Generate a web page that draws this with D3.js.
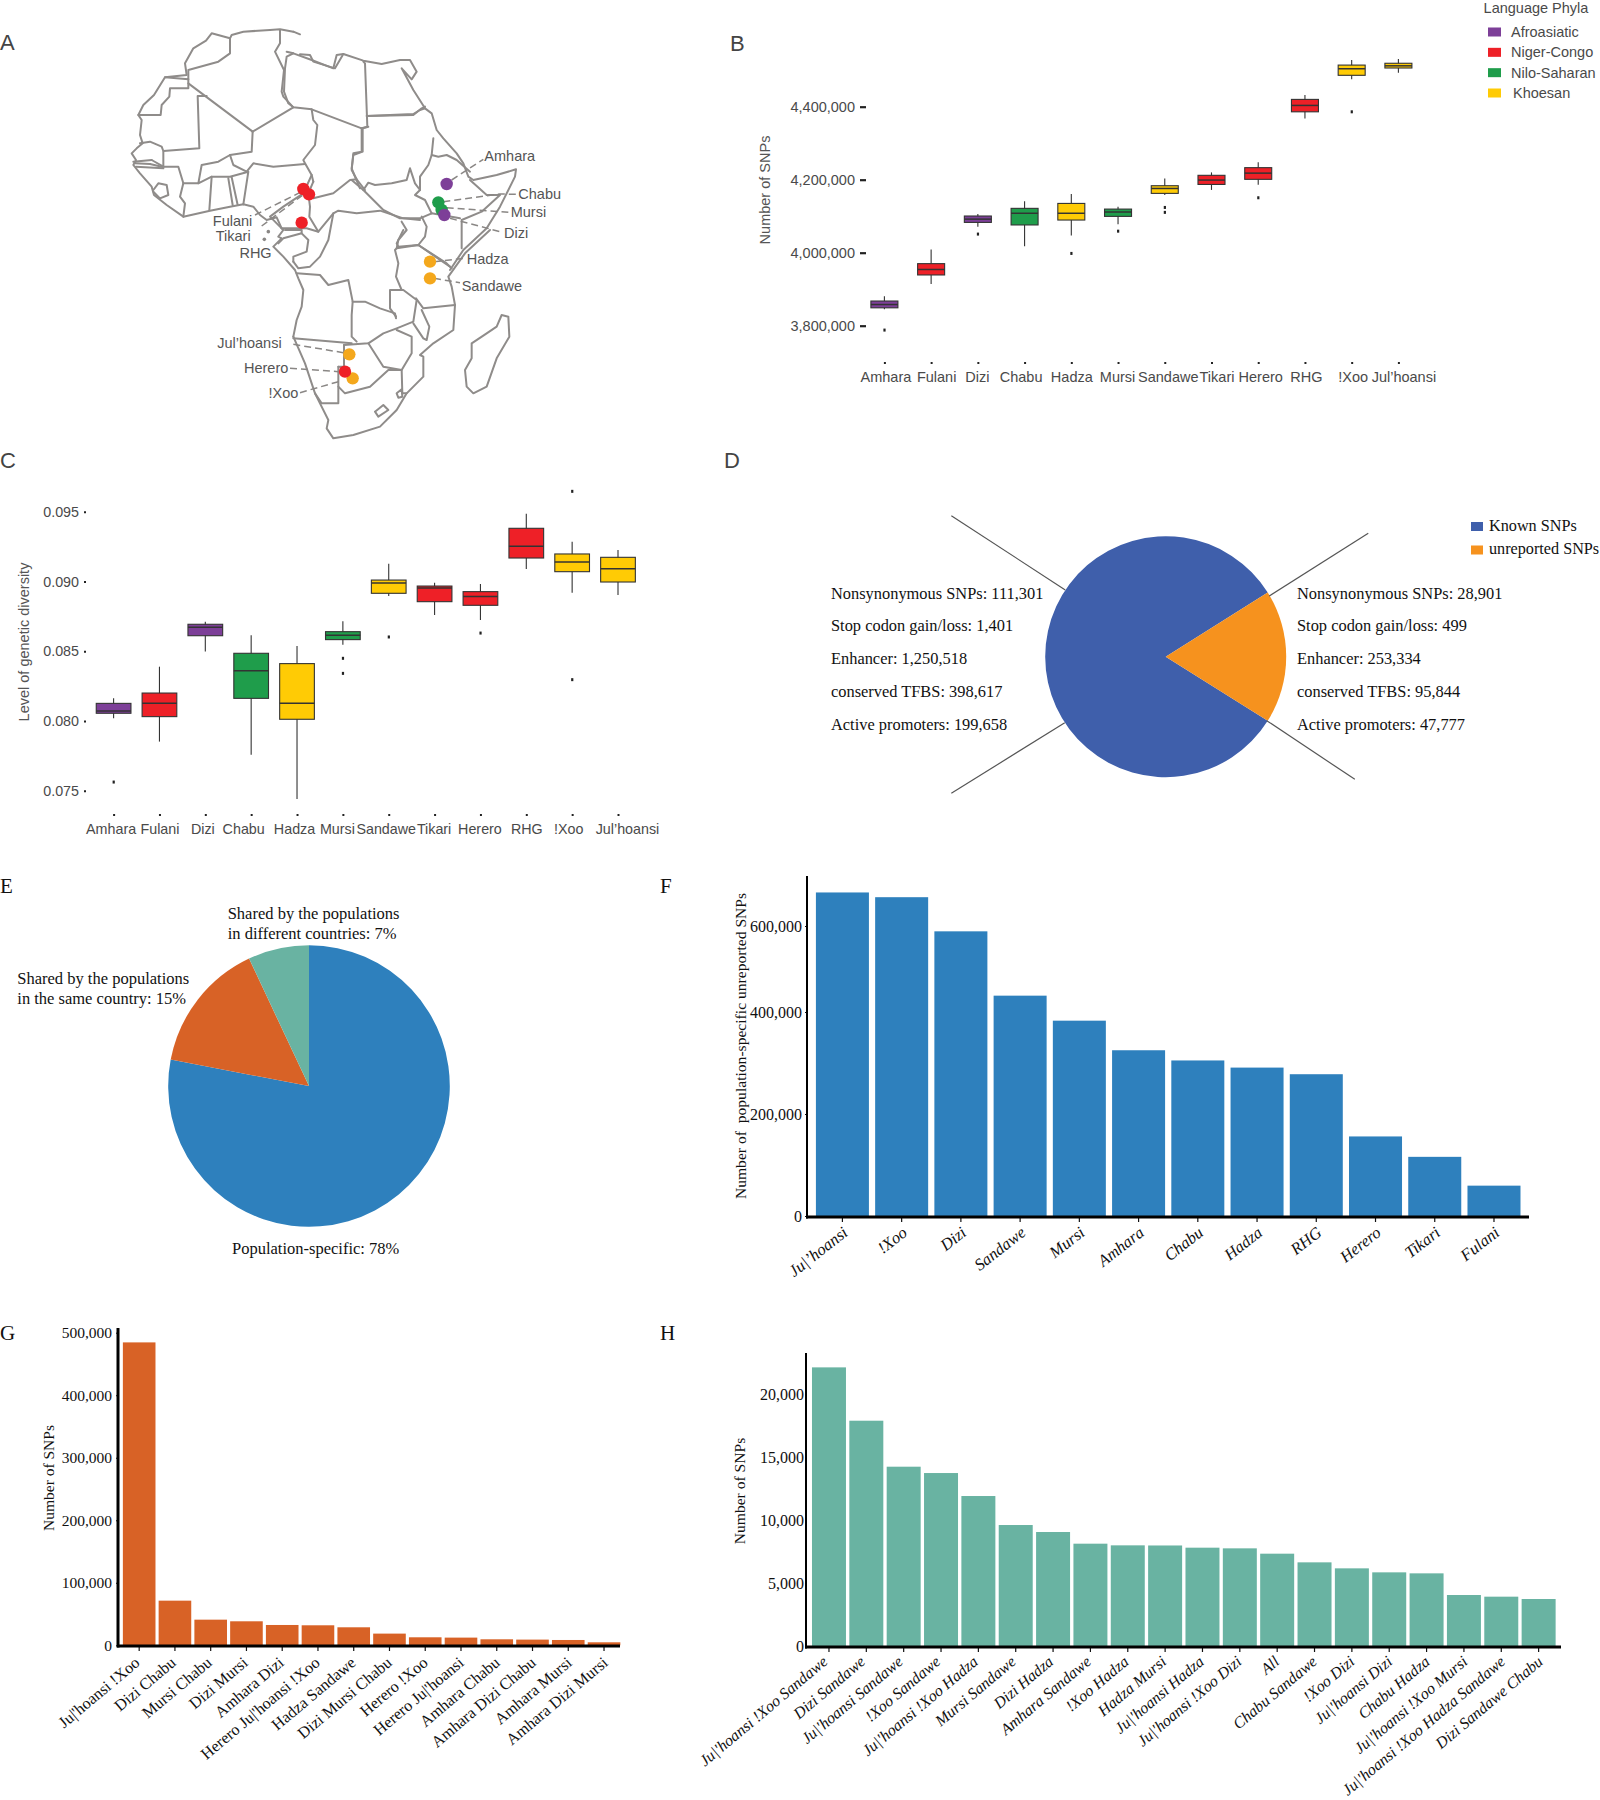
<!DOCTYPE html>
<html><head><meta charset="utf-8">
<script src="https://cdn.jsdelivr.net/npm/d3@7"></script>
<style>
html,body{margin:0;padding:0;background:#fff}
svg{display:block}
</style></head><body>
<svg id="c" width="1600" height="1800" xmlns="http://www.w3.org/2000/svg"></svg>
<script>
/* ---------- data ---------- */
const populations = ["Amhara","Fulani","Dizi","Chabu","Hadza","Mursi","Sandawe","Tikari","Herero","RHG","!Xoo","Jul’hoansi"];
const phyla = ["Afroasiatic","Niger-Congo","Nilo-Saharan","Khoesan"];
const phylaColors = ["#7d3f98","#ee2027","#1f9d4b","#ffcb05"];
const populationPhylum = [0,1,0,2,3,2,3,1,1,1,3,3];

const snpQ1  = [3849000,3939000,4083000,4076000,4089500,4099500,4162500,4187000,4201000,4386000,4486000,4506000];
const snpMed = [3858000,3954000,4092000,4108000,4108000,4111500,4176000,4199000,4218000,4403500,4504000,4512000];
const snpQ3  = [3867600,3970000,4100500,4121500,4135000,4119500,4183500,4212000,4233000,4420000,4514000,4519000];
const snpLo  = [3845000,3914000,4071000,4018000,4047000,4078000,4158000,4172000,4186000,4368000,4475000,4493000];
const snpHi  = [3881000,4009000,4106000,4141000,4161000,4126000,4203500,4220000,4247500,4432000,4528000,4531000];
const snpOut = [[3788000],[],[4051000],[],[3998000],[4059000],[4124000,4110500],[],[4150500],[],[4386000],[]];
const snpTicks = [3800000,4000000,4200000,4400000];

const divQ1  = [.08055,.08031,.08611,.08162,.08012,.08583,.08915,.08855,.08829,.09168,.09070,.08996];
const divMed = [.08071,.08126,.08671,.08360,.08126,.08614,.08989,.08953,.08893,.09252,.09139,.09091];
const divQ3  = [.08126,.08200,.08693,.08485,.08411,.08640,.09010,.08967,.08927,.09381,.09197,.09173];
const divLo  = [.08019,.07852,.08497,.07758,.07441,.08547,.08896,.08759,.08724,.09089,.08919,.08903];
const divHi  = [.08162,.08389,.08712,.08614,.08537,.08714,.09127,.08991,.08982,.09486,.09285,.09225];
const divOut = [[.07562],[],[],[],[],[.08449,.08341],[.08602],[],[.08630],[],[.09646,.08296],[]];
const divTicks = [.075,.080,.085,.090,.095];

const annotCats = ["Nonsynonymous SNPs","Stop codon gain/loss","Enhancer","conserved TFBS","Active promoters"];
const knownCounts = [111301,1401,1250518,398617,199658];
const unreportedCounts = [28901,499,253334,95844,47777];
const snpClassNames = ["Known SNPs","unreported SNPs"];

const shareNames = ["Population-specific","Shared same country","Shared different countries"];
const shareValues = [78,15,7];

const fCats = ["Ju|’hoansi","!Xoo","Dizi","Sandawe","Mursi","Amhara","Chabu","Hadza","RHG","Herero","Tikari","Fulani"];
const fVals = [678000,667000,587600,438000,383000,325000,305000,291000,278000,156000,116000,59500];
const fTicks = [0,200000,400000,600000];

const gCats = ["Ju|'hoansi !Xoo","Dizi Chabu","Mursi Chabu","Dizi Mursi","Amhara Dizi","Herero Ju|'hoansi !Xoo","Hadza Sandawe","Dizi Mursi Chabu","Herero !Xoo","Herero Ju|'hoansi","Amhara Chabu","Amhara Dizi Chabu","Amhara Mursi","Amhara Dizi Mursi"];
const gVals = [484500,71400,41000,38400,32500,32000,28800,18700,12800,12300,9600,9100,8500,4800];
const gTicks = [0,100000,200000,300000,400000,500000];

const hCats = ["Ju|'hoansi !Xoo Sandawe","Dizi Sandawe","Ju|'hoansi Sandawe","!Xoo Sandawe","Ju|'hoansi !Xoo Hadza","Mursi Sandawe","Dizi Hadza","Amhara Sandawe","!Xoo Hadza","Hadza Mursi","Ju|'hoansi Hadza","Ju|'hoansi !Xoo Dizi","All","Chabu Sandawe","!Xoo Dizi","Ju|'hoansi Dizi","Chabu Hadza","Ju|'hoansi !Xoo Mursi","Ju|'hoansi !Xoo Hadza Sandawe","Dizi Sandawe Chabu"];
const hVals = [22175,17930,14270,13766,11936,9628,9072,8143,8011,8000,7825,7772,7347,6658,6180,5862,5782,4058,3926,3740];
const hTicks = [0,5000,10000,15000,20000];

/* map outline traced in map units; each entry: [originX, originY, "x,y x,y ..."] */
const mapCoast = [
 [390,60,"490,35 450,28 420,30 340,35 305,45 300,55 245,40 228,62 190,85 165,130 170,165 105,172 72,225 40,255 25,285 35,300 30,345 38,370 20,385 5,400 18,420 10,435 30,460 65,500 72,525 110,555 160,590 240,572 300,560 340,553 370,560 390,585 410,600 440,592 455,625"],
 [390,450,"455,235 460,240 445,260 455,265 430,290 460,320 495,360 505,385 520,420 515,470 500,510 490,560"],
 [810,690,"70,320 105,400 135,490 175,570 170,595 190,625 250,615 330,590 380,540 410,490 460,440 460,380 450,375 490,340 550,300 555,225 545,170 535,140 585,70 660,0"],
 [900,120,"450,690 490,630 560,565 600,500 645,410 648,388 590,405 520,420 505,410 490,370 470,340 430,295 410,270 395,220 375,205 340,150 305,85 335,118 350,95 330,60 300,60 245,72 190,62 130,42 105,85 40,65 30,45 0,43"],
 [390,60,"510,43 490,35"],
 [390,60,"470,95 490,100 545,120 610,145 620,105 640,102"],
 [810,690,"695,255 715,260 718,320 680,385 650,470 610,490 590,470 585,420 605,385 605,340 650,310 680,290 695,255"]
];
const mapBorders = [
 [390,60,"105,172 175,178 175,150 265,125 300,100 300,55"],
 [390,60,"25,285 92,285 95,255 118,230 120,205 175,205 175,178"],
 [390,60,"175,190 355,325 368,335"],
 [390,60,"230,228 203,228 208,385 100,393 95,380 60,365 30,370"],
 [390,60,"368,335 365,395 300,405 265,425 215,435 205,490 245,470 300,470 355,455 340,553"],
 [390,60,"368,335 490,262 460,230 455,215 462,150 435,95 450,70 450,30"],
 [390,60,"490,100 470,110 465,145 462,215 475,250 490,262 545,268 695,325 712,320 705,130 700,125"],
 [390,60,"712,288 850,285 875,265 885,260"],
 [390,60,"545,268 550,300 562,315 555,375 520,420 525,430 545,465 550,485"],
 [390,60,"525,432 430,440 370,430 350,455"],
 [390,60,"300,405 310,435 350,455"],
 [390,60,"245,470 238,570"],[390,60,"295,475 308,555"],[390,60,"305,472 323,555"],
 [390,60,"160,590 165,550 150,530 160,490 145,440 95,440 60,432"],
 [390,60,"205,490 160,490"],
 [390,60,"70,510 85,490 110,495 115,525 90,535 70,515"],
 [390,60,"10,425 65,420"],[390,60,"15,430 60,432"],[390,60,"18,440 100,445 100,395"],[390,60,"65,420 100,440"],
 [390,60,"545,465 520,520 460,560 420,590 455,625 530,625 565,635"],
 [390,60,"550,535 610,520 660,480 680,478 705,510"],
 [390,60,"695,325 695,395 670,400 665,450 680,478"],
 [390,60,"550,485 535,520 540,560 538,590 565,635 610,580 625,572 680,580 750,572 820,595 870,600"],
 [900,120,"155,420 190,450 205,428 225,435 275,430 320,420 330,385 345,430 360,450 345,465 375,480 395,520"],
 [900,120,"190,450 250,510 300,535 360,535 395,520 480,535"],
 [900,120,"400,295 395,345 385,375 360,410 360,450"],
 [900,120,"395,345 415,350 440,345 470,360 510,395"],
 [900,120,"188,265 188,335 160,345 155,385 165,410 180,445"],
 [900,120,"200,228 340,222 360,210 375,205"],
 [900,120,"205,260 188,265"],
 [900,120,"365,530 380,560 375,590 355,615"],
 [900,120,"305,545 320,570 295,600 290,625 355,615 450,680"],
 [900,120,"485,545 485,625"],
 [900,120,"510,420 560,465 600,465 545,515 485,540"],
 [390,450,"610,190 595,270 570,320 540,350 505,355 490,335"],
 [390,450,"445,280 460,265 515,250 535,270 530,305 490,320 490,335"],
 [390,450,"465,240 515,240 515,250"],
 [810,690,"80,130 150,135 175,165 235,150 248,215 285,215 330,235 375,250 378,265"],
 [810,690,"248,215 245,255 245,320 260,335"],
 [810,690,"70,325 245,340"],
 [810,690,"205,410 205,520 155,520 135,490"],
 [810,690,"222,345 222,410 205,410"],
 [810,690,"222,345 295,340 340,310 380,295 430,275 440,210 400,180 360,180 360,235 378,260"],
 [810,690,"295,340 340,410 395,420 355,420 300,470 225,490 205,470"],
 [810,690,"380,300 425,320 425,370 395,420 397,490 410,490"],
 [810,690,"438,205 460,235 555,225"],
 [810,690,"430,280 460,325 470,330 478,290 455,240"],
 [810,690,"395,180 378,140 385,100 375,60 385,50 380,40 400,0"],
 [810,690,"385,50 445,45 530,100 545,115"],
 [810,690,"315,545 340,525 355,540 325,560 315,545"],
 [810,690,"380,490 395,478 397,500 385,503 380,490"]
];
const mapLeaders = [
 [900,120,"455,420 550,358"],[900,120,"430,485 600,462 650,463"],[900,120,"440,503 625,517"],[900,120,"450,535 600,575"],
 [900,120,"402,665 495,655"],[810,690,"492,145 570,158"],[810,690,"70,343 220,368"],[810,690,"60,415 205,425"],[810,690,"90,488 205,455"],
 [390,450,"375,195 515,125"],[390,450,"395,228 525,130"]
];
const sitePopulations = ["Fulani","Tikari","RHG","Amhara","Chabu","Mursi","Dizi","Hadza","Sandawe","Jul’hoansi","!Xoo","Herero"];
const siteX = [910,927,905,1340,1315,1325,1333,1290,1290,1048,1058,1035];
const siteY = [567,583,668,552,607,630,645,785,835,1063,1135,1115];
const siteColors = ["#ee2027","#ee2027","#ee2027","#7d3f98","#1f9d4b","#1f9d4b","#7d3f98","#f4a81d","#f4a81d","#f4a81d","#f4a81d","#ee2027"];

/* ---------- helpers ---------- */
const svg = d3.select("#c");
const SANS = '"Liberation Sans",Arial,sans-serif', SERIF = '"Liberation Serif","Times New Roman",serif';
function txt(parent,t,x,y,o={}){
  const e = parent.append("text").attr("x",x).attr("y",y).text(t)
    .style("font-family",o.font||SANS).style("font-size",(o.size||14)+"px").style("white-space","pre")
    .style("fill",o.fill||"#4a4a4a").attr("text-anchor",o.anchor||"start").attr("dominant-baseline",o.base||"central");
  if(o.style) e.style("font-style",o.style);
  if(o.rot!=null) e.attr("transform",`rotate(${o.rot},${x},${y})`);
  return e;
}
function boxplot(cfg){
  const g = svg.append("g");
  const x = d3.scalePoint().domain(populations).range(cfg.xr);
  const y = d3.scaleLinear().domain(cfg.yd).range(cfg.yr);
  const yAxis = d3.axisLeft(y).tickValues(cfg.ticks).tickFormat(cfg.fmt).tickSize(cfg.ytick).tickPadding(cfg.ypad);
  const ya = g.append("g").attr("transform",`translate(${cfg.yax},0)`).call(yAxis);
  ya.select(".domain").remove();
  ya.selectAll("line").attr("stroke","#222").attr("stroke-width",cfg.ytw);
  ya.selectAll("text").style("font-family",SANS).style("font-size",cfg.fs+"px").style("fill","#4a4a4a");
  const xa = g.append("g").attr("transform",`translate(0,${cfg.xay})`).call(d3.axisBottom(x).tickSize(2).tickPadding(cfg.xpad));
  xa.select(".domain").remove();
  xa.selectAll("line").attr("stroke","#222").attr("stroke-width",2);
  xa.selectAll("text").style("font-family",SANS).style("font-size",cfg.fs+"px").style("fill","#4a4a4a")
    .attr("dx",(d,i)=>cfg.labelDx[i]);
  populations.forEach((p,i)=>{
    const cx = x(p), w = cfg.bw;
    g.append("line").attr("x1",cx).attr("x2",cx).attr("y1",y(cfg.hi[i])).attr("y2",y(cfg.lo[i])).attr("stroke","#333").attr("stroke-width",1.1);
    g.append("rect").attr("x",cx-w/2).attr("width",w).attr("y",y(cfg.q3[i])).attr("height",y(cfg.q1[i])-y(cfg.q3[i]))
      .attr("fill",phylaColors[populationPhylum[i]]).attr("stroke","#333").attr("stroke-width",1.1);
    g.append("line").attr("x1",cx-w/2).attr("x2",cx+w/2).attr("y1",y(cfg.med[i])).attr("y2",y(cfg.med[i])).attr("stroke","#333").attr("stroke-width",1.5);
    cfg.out[i].forEach(v=>g.append("rect").attr("x",cx-1).attr("y",y(v)-1.5).attr("width",2.2).attr("height",3).attr("fill","#222"));
  });
  txt(g,cfg.ylabel,cfg.ylx,cfg.yly,{size:cfg.yls,rot:-90,anchor:"middle",fill:"#555"});
}
function barPanel(cfg){
  const g = svg.append("g");
  const x = d3.scaleBand().domain(cfg.cats).range(cfg.xr).paddingInner(cfg.pad).paddingOuter(cfg.pad/2);
  const y = d3.scaleLinear().domain(cfg.yd).range(cfg.yr);
  g.selectAll("rect.bar").data(cfg.vals).join("rect").attr("class","bar")
    .attr("x",(d,i)=>x(cfg.cats[i])).attr("width",x.bandwidth())
    .attr("y",d=>y(d)).attr("height",d=>y(0)-y(d)).attr("fill",cfg.color);
  const ya = g.append("g").attr("transform",`translate(${cfg.axisX},0)`)
    .call(d3.axisLeft(y).tickValues(cfg.ticks).tickFormat(d3.format(",")).tickSize(cfg.ytick).tickPadding(cfg.ypad));
  ya.select(".domain").remove();
  ya.selectAll("line").attr("stroke","#111").attr("stroke-width",1);
  ya.selectAll("text").style("font-family",SERIF).style("font-size",cfg.tickFs+"px").style("fill","#111");
  const xa = g.append("g").attr("transform",`translate(0,${cfg.baseY})`).call(d3.axisBottom(x).tickSize(5));
  xa.select(".domain").remove();
  xa.selectAll("line").attr("stroke","#111").attr("stroke-width",1.2);
  xa.selectAll("text").attr("x",0).attr("y",0).attr("dy",".35em").attr("text-anchor","end")
    .attr("transform",(d,i)=>`translate(${cfg.ldx+i*cfg.ldxStep},${cfg.ldy}) rotate(${cfg.rot})`)
    .style("font-family",SERIF).style("font-size",cfg.labelFs+"px").style("fill","#111").style("font-style",cfg.italic?"italic":"normal");
  g.append("line").attr("x1",cfg.axisX).attr("x2",cfg.axisX).attr("y1",cfg.top).attr("y2",cfg.baseY+1.5).attr("stroke","#000").attr("stroke-width",cfg.axW);
  g.append("line").attr("x1",cfg.axisX-1).attr("x2",cfg.xEnd).attr("y1",cfg.baseY).attr("y2",cfg.baseY).attr("stroke","#000").attr("stroke-width",3);
  txt(g,cfg.ylabel,cfg.ylx,cfg.yly,{font:SERIF,size:cfg.yls,rot:-90,anchor:"middle",fill:"#111"});
}

/* ---------- panel letters ---------- */
[["A",0,50],["B",730,51],["C",0,468],["D",724,468]].forEach(d=>
  txt(svg,d[0],d[1],d[2],{size:22,base:"auto",fill:"#444"}));
[["E",0,893],["F",660,893],["G",0,1340],["H",660,1340]].forEach(d=>
  txt(svg,d[0],d[1],d[2],{font:SERIF,size:21,base:"auto",fill:"#111"}));

/* ---------- A: map ---------- */
(function(){
  const g = svg.append("g");
  const mx = d3.scaleLinear().domain([0,1800]).range([0,600]);
  const my = d3.scaleLinear().domain([0,1800]).range([0,600]);
  const parse = s => { const pts = s[2].split(" ").map(p=>p.split(",").map(Number)); return pts.map(p=>[p[0]+s[0],p[1]+s[1]]); };
  const line = d3.line().x(d=>mx(d[0])).y(d=>my(d[1])).curve(d3.curveLinear);
  g.selectAll("path.b").data(mapBorders.concat(mapCoast)).join("path").attr("class","b")
    .attr("d",d=>line(parse(d))).attr("fill","none").attr("stroke","#8f8c8a").attr("stroke-width",2).attr("stroke-linejoin","round").attr("stroke-linecap","round");
  g.selectAll("path.l").data(mapLeaders).join("path").attr("class","l")
    .attr("d",d=>line(parse(d))).attr("fill","none").attr("stroke","#8a8785").attr("stroke-width",1.5).attr("stroke-dasharray","7 4");
  g.selectAll("circle.d").data(siteX).join("circle").attr("class","d")
    .attr("cx",d=>mx(d)).attr("cy",(d,i)=>my(siteY[i])).attr("r",6.2).attr("fill",(d,i)=>siteColors[i]);
  g.selectAll("circle.t").data([[805,695],[793,718]]).join("circle").attr("class","t")
    .attr("cx",d=>mx(d[0])).attr("cy",d=>my(d[1])).attr("r",1.8).attr("fill","#8a8785");
  const labs = [["Amhara",1453,468,"start"],["Chabu",1555,583,"start"],["Mursi",1532,637,"start"],["Dizi",1512,698,"start"],["Hadza",1400,777,"start"],["Sandawe",1385,857,"start"],
    ["Jul’hoansi",845,1028,"end"],["Herero",865,1105,"end"],["!Xoo",895,1178,"end"],["Fulani",757,662,"end"],["Tikari",752,707,"end"],["RHG",815,760,"end"]];
  labs.forEach(l=>txt(g,l[0],mx(l[1]),my(l[2]),{size:14.5,anchor:l[3],fill:"#555"}));
})();

/* ---------- B ---------- */
boxplot({xr:[884.4,1398.4],yd:[3800000,4400000],yr:[325.7,106.7],ticks:snpTicks,fmt:d3.format(","),ytick:6,ypad:5,yax:866,ytw:2.2,fs:14.5,
  xay:362,xpad:8,labelDx:[1,5,-1,-4,0,-1,3,5,2,1,1,5],bw:27,q1:snpQ1,med:snpMed,q3:snpQ3,lo:snpLo,hi:snpHi,out:snpOut,
  ylabel:"Number of SNPs",ylx:765,yly:190,yls:14.5});
const leg = svg.append("g");
txt(leg,"Language Phyla",1536,8,{anchor:"middle",size:14.5});
const legY = d3.scalePoint().domain(phyla).range([32,93]);
phyla.forEach((p,i)=>{
  leg.append("rect").attr("x",1488).attr("y",legY(p)-4.5).attr("width",13).attr("height",9).attr("fill",phylaColors[i]);
  txt(leg,p,i==3?1513:1511,legY(p),{size:14.5});
});

/* ---------- C ---------- */
boxplot({xr:[113.6,618],yd:[.075,.095],yr:[790.7,511.7],ticks:divTicks,fmt:d3.format(".3f"),ytick:2,ypad:5,yax:86,ytw:2,fs:14.3,
  xay:814,xpad:8,labelDx:[-3,0,-3,-8,-3,-6,-3,-1,-1,0,-4,9],bw:34.7,q1:divQ1,med:divMed,q3:divQ3,lo:divLo,hi:divHi,out:divOut,
  ylabel:"Level of genetic diversity",ylx:24,yly:642,yls:14.5});

/* ---------- D ---------- */
(function(){
  const g = svg.append("g").attr("transform","translate(1165.7,656.7)");
  const totals = [d3.sum(knownCounts),d3.sum(unreportedCounts)];
  const half = Math.PI*totals[1]/(totals[0]+totals[1]);
  const pie = d3.pie().sort(null).startAngle(Math.PI/2+half).endAngle(Math.PI/2+half+2*Math.PI);
  const arc = d3.arc().innerRadius(0).outerRadius(120.5);
  const dColors = ["#3f5fab","#f6921e"];
  const ld = svg.append("g");
  [[264,47,493,270],[264,880,492,668],[1102,100,903,288],[1075,838,898,662]].forEach(l=>{
    ld.append("line").attr("x1",820+l[0]/2.01).attr("y1",500+l[1]/3).attr("x2",820+l[2]/2.01).attr("y2",500+l[3]/3).attr("stroke","#555").attr("stroke-width",1.2);
  });
  g.selectAll("path").data(pie(totals)).join("path").attr("d",arc).attr("fill",(d,i)=>dColors[i]);
  const ty = d3.scalePoint().domain(annotCats).range([593,724.5]);
  const f = d3.format(",");
  annotCats.forEach((c,i)=>{
    txt(svg,`${c}: ${f(knownCounts[i])}`,831,ty(c),{font:SERIF,size:16.4,fill:"#111"});
    txt(svg,`${c}: ${f(unreportedCounts[i])}`,1297,ty(c),{font:SERIF,size:16.4,fill:"#111"});
  });
  snpClassNames.forEach((n,i)=>{
    svg.append("rect").attr("x",1471).attr("y",522+i*23.5).attr("width",12).attr("height",9).attr("fill",dColors[i]);
    txt(svg,n,1489,526+i*23,{font:SERIF,size:16.2,fill:"#111"});
  });
})();

/* ---------- E ---------- */
(function(){
  const g = svg.append("g").attr("transform","translate(309,1086)");
  const pie = d3.pie().sort(null);
  const arc = d3.arc().innerRadius(0).outerRadius(140.8);
  const colors = ["#2e80bd","#d86226","#69b3a2"];
  g.selectAll("path").data(pie(shareValues)).join("path").attr("d",arc).attr("fill",(d,i)=>colors[i]);
  const o={font:SERIF,size:16.5,fill:"#111"};
  txt(svg,"Shared by the populations",227.7,913,o);
  txt(svg,`in different countries: ${shareValues[2]}%`,227.7,933,o);
  txt(svg,"Shared by the populations",17.3,978,o);
  txt(svg,`in the same country: ${shareValues[1]}%`,17.3,998,o);
  txt(svg,`Population-specific: ${shareValues[0]}%`,232,1248.5,o);
})();

/* ---------- F ---------- */
barPanel({cats:fCats,vals:fVals,xr:[812.8,1523.6],pad:.105,yd:[0,200000,400000,600000],yr:[1216,1114,1012,926],ticks:fTicks,
  color:"#2e80bd",axisX:807,ytick:2,ypad:3,tickFs:16,baseY:1217,top:876,xEnd:1529,axW:2,ldx:3,ldxStep:0,ldy:13,rot:-38,labelFs:16.5,italic:true,
  ylabel:"Number of  population-specific unreported SNPs",ylx:740,yly:1046,yls:15.6});

/* ---------- G ---------- */
barPanel({cats:gCats,vals:gVals,xr:[121.3,621.9],pad:.088,yd:[0,500000],yr:[1645.3,1332.7],ticks:gTicks,
  color:"#d86226",axisX:118,ytick:2,ypad:4,tickFs:15.5,baseY:1646,top:1328,xEnd:620,axW:3,ldx:-2,ldxStep:.25,ldy:14,rot:-40,labelFs:16.2,italic:false,
  ylabel:"Number of SNPs",ylx:48,yly:1478,yls:15.5});

/* ---------- H ---------- */
barPanel({cats:hCats,vals:hVals,xr:[810.3,1557.3],pad:.09,yd:[0,20000],yr:[1646,1394.7],ticks:hTicks,
  color:"#69b3a2",axisX:806,ytick:1,ypad:1,tickFs:16,baseY:1647,top:1353,xEnd:1561,axW:2,ldx:-4,ldxStep:.3,ldy:12,rot:-40,labelFs:15.9,italic:true,
  ylabel:"Number of SNPs",ylx:739,yly:1491,yls:15.6});
</script>
</body></html>
